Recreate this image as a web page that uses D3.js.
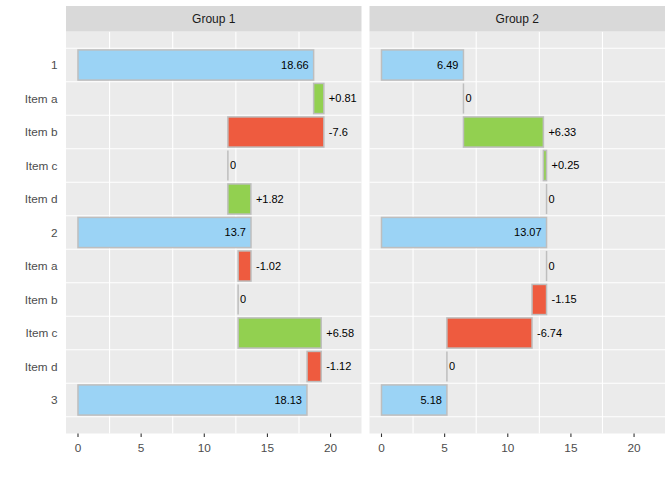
<!DOCTYPE html>
<html>
<head>
<meta charset="utf-8">
<script src="https://cdn.jsdelivr.net/npm/d3@7"></script>
<style>
  body { margin: 0; background: #fff; }
  text { font-family: "Liberation Sans", Arial, sans-serif; }
</style>
</head>
<body>
<div id="chart"></div>
<script>
// data
var rowLabels = ["1", "Item a", "Item b", "Item c", "Item d", "2", "Item a", "Item b", "Item c", "Item d", "3"];
var rowTypes = ["total", "delta", "delta", "delta", "delta", "total", "delta", "delta", "delta", "delta", "total"];
var groups = ["Group 1", "Group 2"];
var group1Values = [18.66, 0.81, -7.6, 0, 1.82, 13.7, -1.02, 0, 6.58, -1.12, 18.13];
var group2Values = [6.49, 0, 6.33, 0.25, 0, 13.07, 0, -1.15, -6.74, 0, 5.18];
var xTicks = [0, 5, 10, 15, 20];
var xGrid = [2.5, 7.5, 12.5, 17.5];

var colors = { total: "#9bd3f5", up: "#92d050", down: "#ee5b3f" };

var svgWidth = 672;
var svgHeight = 480;

var margin = { top: 31.5, left: 66, bottom: 46.5, right: 7 };
var panelGap = 8;
var panelWidth = (svgWidth - margin.left - margin.right - panelGap) / 2;
var panelHeight = svgHeight - margin.top - margin.bottom;

var svg = d3.select("#chart")
    .append("svg")
    .attr("width", svgWidth)
    .attr("height", svgHeight);

var xScale = d3.scaleLinear()
    .domain([-0.95, 22.45])
    .range([0, panelWidth]);

var yScale = d3.scaleLinear()
    .domain([0, 12])
    .range([0, panelHeight]);

var barH = yScale(0.9) - yScale(0);

// build waterfall rows from values
function buildRows(values) {
    var running = 0;
    return values.map(function (v, i) {
        var start, end;
        if (rowTypes[i] === "total") {
            start = 0; end = v;
        } else {
            start = running; end = running + v;
        }
        running = end;
        return { i: i, type: rowTypes[i], value: v, start: start, end: end };
    });
}

var allRows = [buildRows(group1Values), buildRows(group2Values)];

groups.forEach(function (g, gi) {
    var px = margin.left + gi * (panelWidth + panelGap);
    var panel = svg.append("g").attr("transform", `translate(${px}, ${margin.top})`);

    // strip
    svg.append("rect")
        .attr("x", px).attr("y", 6)
        .attr("width", panelWidth).attr("height", margin.top - 6)
        .attr("fill", "#d9d9d9");
    svg.append("text")
        .attr("x", px + panelWidth / 2).attr("y", 23)
        .attr("text-anchor", "middle")
        .attr("font-size", "12px")
        .attr("fill", "#1a1a1a")
        .text(g);

    // background
    panel.append("rect")
        .attr("width", panelWidth).attr("height", panelHeight)
        .attr("fill", "#ebebeb");

    // grid
    panel.selectAll(".vgrid").data(xGrid).enter().append("line")
        .attr("x1", d => xScale(d)).attr("x2", d => xScale(d))
        .attr("y1", 0).attr("y2", panelHeight)
        .attr("stroke", "#fff").attr("stroke-width", 1.1);
    panel.selectAll(".hgrid").data(d3.range(12)).enter().append("line")
        .attr("x1", 0).attr("x2", panelWidth)
        .attr("y1", d => yScale(d + 0.5)).attr("y2", d => yScale(d + 0.5))
        .attr("stroke", "#fff").attr("stroke-width", 1.1);

    var rows = allRows[gi];

    // bars
    rows.forEach(function (r) {
        var cy = yScale(r.i + 1);
        var lo = Math.min(r.start, r.end), hi = Math.max(r.start, r.end);
        if (hi - lo === 0) {
            panel.append("line")
                .attr("x1", xScale(lo)).attr("x2", xScale(lo))
                .attr("y1", cy - barH / 2).attr("y2", cy + barH / 2)
                .attr("stroke", "#bebebe").attr("stroke-width", 1.5);
        } else {
            var fill = r.type === "total" ? colors.total : (r.value > 0 ? colors.up : colors.down);
            panel.append("rect")
                .attr("x", xScale(lo)).attr("y", cy - barH / 2)
                .attr("width", xScale(hi) - xScale(lo)).attr("height", barH)
                .attr("fill", fill)
                .attr("stroke", "#bebebe").attr("stroke-width", 1.5);
        }

        // labels
        var label, lx, anchor;
        if (r.type === "total") {
            label = String(r.value);
            lx = xScale(r.end) - 5;
            anchor = "end";
        } else {
            label = r.value > 0 ? "+" + r.value : String(r.value);
            lx = xScale(hi) + (r.value === 0 ? 2 : 5);
            anchor = "start";
        }
        panel.append("text")
            .attr("x", lx).attr("y", cy)
            .attr("dy", "0.35em")
            .attr("text-anchor", anchor)
            .attr("font-size", "11px")
            .attr("fill", "#000")
            .text(label);
    });

    // x axis
    var axisG = panel.append("g").attr("transform", `translate(0, ${panelHeight})`);
    axisG.selectAll("line").data(xTicks).enter().append("line")
        .attr("x1", d => xScale(d)).attr("x2", d => xScale(d))
        .attr("y1", 0).attr("y2", 3.5)
        .attr("stroke", "#333").attr("stroke-width", 1.1);
    axisG.selectAll("text").data(xTicks).enter().append("text")
        .attr("x", d => xScale(d)).attr("y", 18)
        .attr("text-anchor", "middle")
        .attr("font-size", "11.8px")
        .attr("fill", "#4d4d4d")
        .text(d => d);
});

// y labels
svg.selectAll(".ylab").data(rowLabels).enter().append("text")
    .attr("x", margin.left - 8.5)
    .attr("y", (d, i) => margin.top + yScale(i + 1))
    .attr("dy", "0.35em")
    .attr("text-anchor", "end")
    .attr("font-size", "11.8px")
    .attr("fill", "#4d4d4d")
    .text(d => d);
</script>
</body>
</html>
